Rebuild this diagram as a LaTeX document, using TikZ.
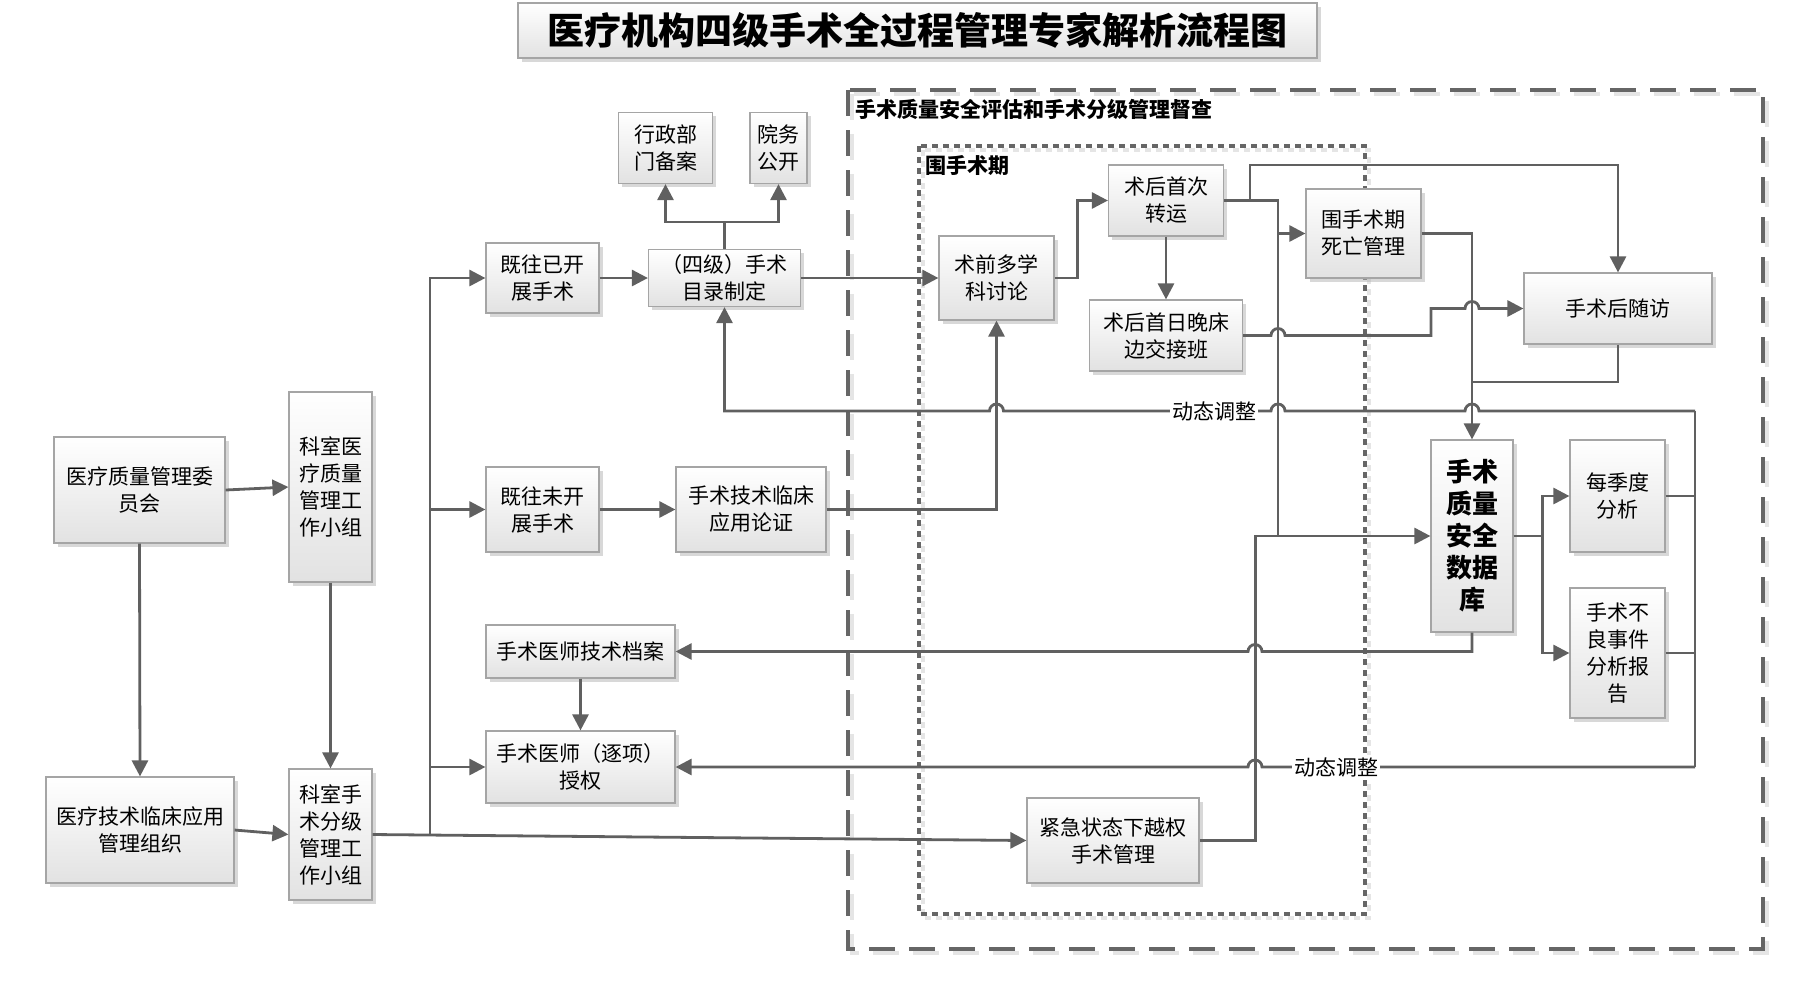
\documentclass[tikz,border=0pt]{standalone}
\usepackage{fontspec}
\setmainfont{Noto Sans CJK SC}
\usepackage{xcolor}
\usepackage{tikz}
\usetikzlibrary{arrows.meta, shadows}
\definecolor{linegray}{RGB}{96,96,96}
\definecolor{boxedge}{RGB}{165,165,165}
\definecolor{boxshade}{RGB}{226,226,226}
\definecolor{framegray}{RGB}{102,102,102}

\begin{document}
\begin{tikzpicture}[x=0.5pt, y=-0.5pt,
  blk/.style={draw=boxedge, line width=0.6pt, top color=white, bottom color=boxshade,
              drop shadow={shadow xshift=1.8pt, shadow yshift=-1.8pt, fill=black!30},
              align=center, inner sep=2pt, font=\fontsize{10.5}{13.5}\selectfont},
  conn/.style={draw=linegray, line width=1.4pt},
  arr/.style={conn, -{Triangle[length=8pt, width=8pt]}},
  lbl/.style={fill=white, inner sep=1pt, font=\fontsize{10.5}{12}\selectfont},
  grp/.style={anchor=west, inner sep=0pt, font=\bfseries\fontsize{10.5}{12}\selectfont},
  outerframe/.style={draw=framegray, line width=2pt, dash pattern=on 13pt off 7pt},
  innerframe/.style={draw=framegray, line width=2pt, dash pattern=on 3pt off 2.5pt},
  hopl/.style 2 args={insert path={-- (#1+7,#2) arc[start angle=0, end angle=-180, radius=7]}},
  hopr/.style 2 args={insert path={-- (#1-7,#2) arc[start angle=180, end angle=360, radius=7]}},
]
\useasboundingbox (0,0) rectangle (1814,998);

% frames
\draw[outerframe, draw=black!10, xshift=2pt, yshift=-2pt] (848,90) rectangle (1763,949);
\draw[outerframe] (848,90) rectangle (1763,949);
\draw[innerframe, draw=black!10, xshift=2pt, yshift=-2pt] (919,146) rectangle (1365,914);
\draw[innerframe] (919,146) rectangle (1365,914);
\node[grp] (outername) at (855,109) {手术质量安全评估和手术分级管理督查};
\node[grp] (innername) at (925,165) {围手术期};

\node[blk, minimum width=399.5pt, minimum height=27.5pt,
      font=\bfseries\fontsize{18.5}{22}\selectfont] (title) at (917.5,30.5)
  {医疗机构四级手术全过程管理专家解析流程图};

\node[blk, minimum width=85.5pt, minimum height=53pt] (qmc) at (139.5,490) {医疗质量管理委\\员会};
\node[blk, minimum width=41.5pt, minimum height=95pt] (deptq) at (330.5,487) {科室医\\疗质量\\管理工\\作小组};
\node[blk, minimum width=94pt, minimum height=53pt] (techorg) at (140,830) {医疗技术临床应用\\管理组织};
\node[blk, minimum width=41.5pt, minimum height=65.5pt] (deptgrade) at (330.5,834.5) {科室手\\术分级\\管理工\\作小组};

\node[blk, minimum width=56.5pt, minimum height=35pt] (done) at (542.5,278) {既往已开\\展手术};
\node[blk, minimum width=76pt, minimum height=28.5pt] (catalog) at (724.5,278) {（四级）手术\\目录制定};
\node[blk, minimum width=47pt, minimum height=35.5pt] (admin) at (665.5,148) {行政部\\门备案};
\node[blk, minimum width=28.5pt, minimum height=35.5pt] (public) at (778.5,148) {院务\\公开};
\node[blk, minimum width=56.5pt, minimum height=42.5pt] (undone) at (542.5,509.5) {既往未开\\展手术};
\node[blk, minimum width=75pt, minimum height=42.5pt] (demo) at (751,509.5) {手术技术临床\\应用论证};
\node[blk, minimum width=94.5pt, minimum height=26.5pt] (archive) at (580.5,651.5) {手术医师技术档案};
\node[blk, minimum width=94.5pt, minimum height=36pt] (auth) at (580.5,767) {手术医师（逐项）\\授权};
\node[blk, minimum width=86pt, minimum height=42.5pt] (emerg) at (1113,840.5) {紧急状态下越权\\手术管理};

\node[blk, minimum width=57.5pt, minimum height=42pt] (mdt) at (996.5,278) {术前多学\\科讨论};
\node[blk, minimum width=57.5pt, minimum height=35.5pt] (transfer) at (1166,200.5) {术后首次\\转运};
\node[blk, minimum width=76.5pt, minimum height=35.5pt] (handover) at (1166,335.5) {术后首日晚床\\边交接班};
\node[blk, minimum width=57.5pt, minimum height=44.5pt] (death) at (1363.5,233.5) {围手术期\\死亡管理};
\node[blk, minimum width=94pt, minimum height=35.5pt] (follow) at (1618,308.5) {手术后随访};
\node[blk, minimum width=41pt, minimum height=96pt,
      font=\bfseries\fontsize{13}{16}\selectfont] (db) at (1472,536) {手术\\质量\\安全\\数据\\库};
\node[blk, minimum width=47.5pt, minimum height=56pt] (quarter) at (1617.5,496) {每季度\\分析};
\node[blk, minimum width=47.5pt, minimum height=65pt] (adverse) at (1617.5,653) {手术不\\良事件\\分析报\\告};

\coordinate (trunk) at (430,835);
\coordinate (fbtop) at (1695,411);
\coordinate (fbbot) at (1695,767);

% left side
\draw[arr] (qmc.east) -- (deptq.west);
\draw[arr] (qmc.south) -- (techorg.north);
\draw[arr] (deptq) -- (deptgrade);
\draw[arr] (techorg.east) -- (deptgrade.west);
\draw[arr] (deptgrade.east) -- (emerg.west);
\draw[arr] (trunk) |- (done.west);
\draw[arr] (trunk |- undone.west) -- (undone.west);
\draw[arr] (trunk |- auth.west) -- (auth.west);

\draw[arr] (done) -- (catalog);
\draw[arr] (undone) -- (demo);
\draw[conn] (catalog.north) -- (catalog.north |- 0,222) coordinate (fork);
\draw[arr] (fork) -| (admin.south);
\draw[arr] (fork) -| (public.south);
\draw[arr] (catalog) -- (mdt);
\draw[arr] (demo.east) -| (mdt.south);
\draw[arr] (archive) -- (auth);

% perioperative chain
\draw[arr] (mdt.east) -- ++(23,0) |- (transfer.west);
\draw[arr] (transfer) -- (handover);
\draw[conn] (transfer.east) -| (1278,536);
\draw[arr] (1278,233.5) -- (death.west);
\draw[arr] (1250,200.5) -- (1250,165) -| (follow.north);
\draw[arr] (handover.east) [hopr={1278}{335.5}] -- (1431,335.5) -- (1431,308.5)
  [hopr={1472}{308.5}] -- (follow.west);
\draw[arr] (death.east) -| (db.north);
\draw[conn] (follow.south) |- (1472,382);
\draw[arr] (emerg.east) -- ++(56,0) |- (db.west);

% database outputs
\draw[arr] (db.east) -- ++(29,0) |- (quarter.west);
\draw[arr] (db.east) -- ++(29,0) |- (adverse.west);
\draw[conn] (quarter.east) -- (quarter.east -| fbtop);
\draw[conn] (adverse.east) -- (adverse.east -| fbtop);
\draw[conn] (fbtop) -- (fbbot);
\draw[arr] (fbtop) [hopl={1472}{411}] [hopl={1278}{411}] [hopl={996.5}{411}] -| (catalog.south);
\draw[arr] (fbbot) [hopl={1255}{767}] -- (auth.east);
\draw[arr] (db.south) -- (1472,651.5) [hopl={1255}{651.5}] -- (archive.east);
\node[lbl] (dyntop) at (1214,411) {动态调整};
\node[lbl] (dynbot) at (1336,767) {动态调整};
\end{tikzpicture}
\end{document}
